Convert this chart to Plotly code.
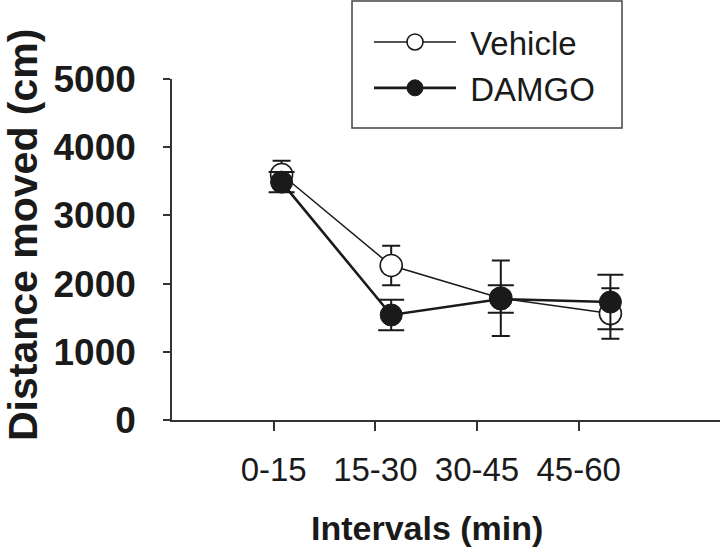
import plotly.graph_objects as go

intervals = ["0-15", "15-30", "30-45", "45-60"]
x_pos = [1, 2, 3, 4]
vehicle = [3600, 2265, 1786, 1560]
vehicle_err = [200, 290, 553, 370]
damgo = [3488, 1540, 1774, 1730]
damgo_err = [150, 225, 203, 400]
y_ticks = [0, 1000, 2000, 3000, 4000, 5000]

FONT = "Liberation Sans, Arial, sans-serif"
INK = "#1a1a1a"
NB = "\u00a0"

L, T, PW, PH = 172, 79, 548, 341


def px(xp):
    return (xp - L) / PW


def py(yp):
    return (T + PH - yp) / PH


fig = go.Figure()
fig.add_trace(go.Scatter(
    x=x_pos, y=vehicle, name=NB + "Vehicle", mode="lines+markers",
    line=dict(color=INK, width=1.5),
    marker=dict(symbol="circle", size=22, color="white", line=dict(color=INK, width=1.6)),
    error_y=dict(type="data", array=vehicle_err, color=INK, thickness=2, width=9),
))
fig.add_trace(go.Scatter(
    x=x_pos, y=damgo, name=NB + "DAMGO", mode="lines+markers",
    line=dict(color=INK, width=2.6),
    marker=dict(symbol="circle", size=22, color=INK, line=dict(color=INK, width=1)),
    error_y=dict(type="data", array=damgo_err, color=INK, thickness=2, width=13),
))
# invisible trace to carry the category tick axis
fig.add_trace(go.Scatter(x=intervals, y=[None] * 4, xaxis="x2", showlegend=False,
                         hoverinfo="skip", mode="markers"))

fig.update_layout(
    width=720, height=551,
    margin=dict(l=L, r=720 - L - PW, t=T, b=551 - T - PH, autoexpand=False),
    plot_bgcolor="white", paper_bgcolor="white",
    font=dict(family=FONT, color=INK),
    showlegend=True,
    legend=dict(
        x=px(369), y=py(14), xanchor="left", yanchor="top",
        borderwidth=0, bgcolor="rgba(0,0,0,0)",
        font=dict(size=33, family=FONT, color=INK),
        itemwidth=82,
    ),
    shapes=[dict(type="rect", xref="paper", yref="paper",
                 x0=px(352), x1=px(622), y0=py(128), y1=py(1),
                 line=dict(color="#444", width=1.5), fillcolor="rgba(0,0,0,0)", layer="below")],
    xaxis=dict(range=[0, 5.0], showline=False, showticklabels=False, ticks="",
               showgrid=False, zeroline=False, fixedrange=True),
    xaxis2=dict(overlaying="x", anchor="y", side="bottom", type="category",
                categoryorder="array", categoryarray=intervals,
                range=[-1.0, 4.39], showline=True, linecolor="#333", linewidth=1.5,
                ticks="outside", ticklen=9, tickwidth=1.5, tickcolor="#333",
                tickfont=dict(size=33, family=FONT, color=INK),
                ticklabelstandoff=11, showgrid=False, zeroline=False),
    yaxis=dict(range=[0, 5000], tickvals=y_ticks, showline=True, linecolor="#333",
               linewidth=1.5, ticks="outside", ticklen=7, tickwidth=1.5, tickcolor="#333",
               tickfont=dict(size=37, family=FONT, color=INK, weight="bold"),
               ticklabelstandoff=20, showgrid=False, zeroline=False),
    annotations=[
        dict(text="<b>Distance moved (cm)</b>", xref="paper", yref="paper",
             x=px(-2), y=py(235), xanchor="left", yanchor="middle",
             textangle=-90, showarrow=False, font=dict(size=41, family=FONT, color=INK)),
        dict(text="<b>Intervals (min)</b>", xref="paper", yref="paper",
             x=px(427), y=py(528), xanchor="center", yanchor="middle",
             showarrow=False, font=dict(size=34, family=FONT, color=INK)),
    ],
)

fig.write_html("out.html", config={"displayModeBar": False},
               post_script="document.body.style.margin='0px';document.body.style.overflow='hidden';")
